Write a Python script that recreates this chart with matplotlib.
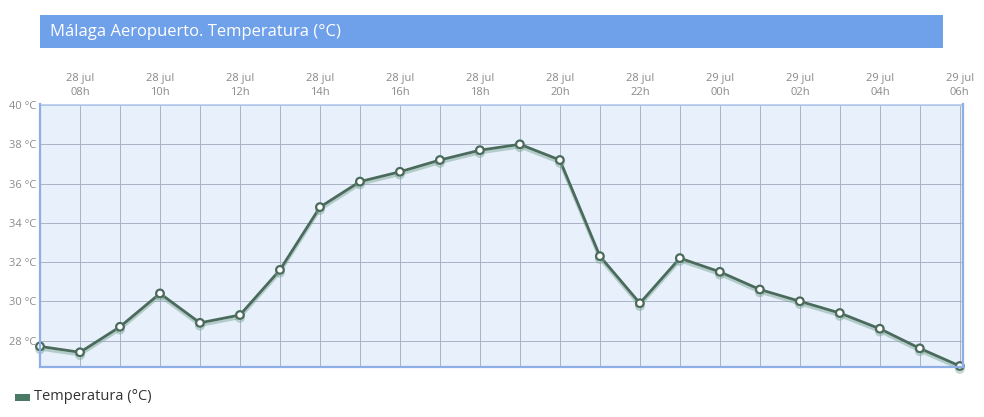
import matplotlib.pyplot as plt
import matplotlib.patheffects as pe
from matplotlib.patches import Rectangle

plt.rcParams['font.family'] = ['Open Sans', 'DejaVu Sans']

# hours since 28 jul 07h
hours = list(range(24))
temps = [27.7, 27.4, 28.7, 30.4, 28.9, 29.3, 31.6, 34.8, 36.1, 36.6, 37.2, 37.7,
         38.0, 37.2, 32.3, 29.9, 32.2, 31.5, 30.6, 30.0, 29.4, 28.6, 27.6, 26.7]
tick_pos = [1, 3, 5, 7, 9, 11, 13, 15, 17, 19, 21, 23]
tick_labels = ["28 jul\n08h", "28 jul\n10h", "28 jul\n12h", "28 jul\n14h",
               "28 jul\n16h", "28 jul\n18h", "28 jul\n20h", "28 jul\n22h",
               "29 jul\n00h", "29 jul\n02h", "29 jul\n04h", "29 jul\n06h"]
y_ticks = [28, 30, 32, 34, 36, 38, 40]

line_color = "#4a6b5c"
label_color = "#8a8a8a"
grid_color = "#aab2c6"

fig = plt.figure(figsize=(9.84, 4.17), dpi=100)
ax = fig.add_axes([40 / 984, 50 / 417, 923 / 984, 262.5 / 417])
ax.set_facecolor("#e8f0fc")

ax.plot(hours, temps, color=line_color, lw=2, zorder=3, clip_on=False,
        marker="o", markersize=5.5, markerfacecolor="white",
        markeredgecolor=line_color, markeredgewidth=1.6,
        path_effects=[pe.SimpleLineShadow(offset=(0, -2), shadow_color="#7fa898", alpha=0.5),
                      pe.Normal()])

ax.set_xlim(0, 23.08)
ax.set_ylim(26.65, 40.03)

# vertical grid every hour, drawn by hand on the hour positions
for h in hours:
    ax.axvline(h, color=grid_color, lw=0.7, zorder=1)
ax.set_yticks(y_ticks)
ax.grid(True, which="major", axis="y", color=grid_color, lw=0.7)
ax.set_axisbelow(True)

ax.xaxis.tick_top()
ax.set_xticks(tick_pos)
ax.set_xticklabels(tick_labels, fontsize=8, color=label_color, linespacing=1.3)
ax.set_yticklabels([f"{t} °C" for t in y_ticks], fontsize=8, color=label_color)
ax.tick_params(axis="both", which="both", length=0, pad=3)
ax.tick_params(axis="x", pad=5)

for side in ["left", "bottom", "right"]:
    ax.spines[side].set_color("#8eaee6")
    ax.spines[side].set_linewidth(1.6)
    ax.spines[side].set_zorder(4)
ax.spines["top"].set_color("#b4c9ee")
ax.spines["top"].set_linewidth(1.2)

# title bar
fig.patches.append(Rectangle((40 / 984, (417 - 48) / 417), 903 / 984, 33 / 417,
                             transform=fig.transFigure, facecolor="#6fa0ea",
                             edgecolor="none", zorder=0))
fig.text(50 / 984, (417 - 32) / 417, "Málaga Aeropuerto. Temperatura (°C)",
         color="white", fontsize=12, va="center", ha="left")

# legend
fig.patches.append(Rectangle((15 / 984, (417 - 401) / 417), 15 / 984, 7 / 417,
                             transform=fig.transFigure, facecolor="#4a7a66",
                             edgecolor="none"))
fig.text(34 / 984, (417 - 397) / 417, "Temperatura (°C)", color="#333333",
         fontsize=10.5, va="center", ha="left")

fig.savefig("out.png", dpi=100)
